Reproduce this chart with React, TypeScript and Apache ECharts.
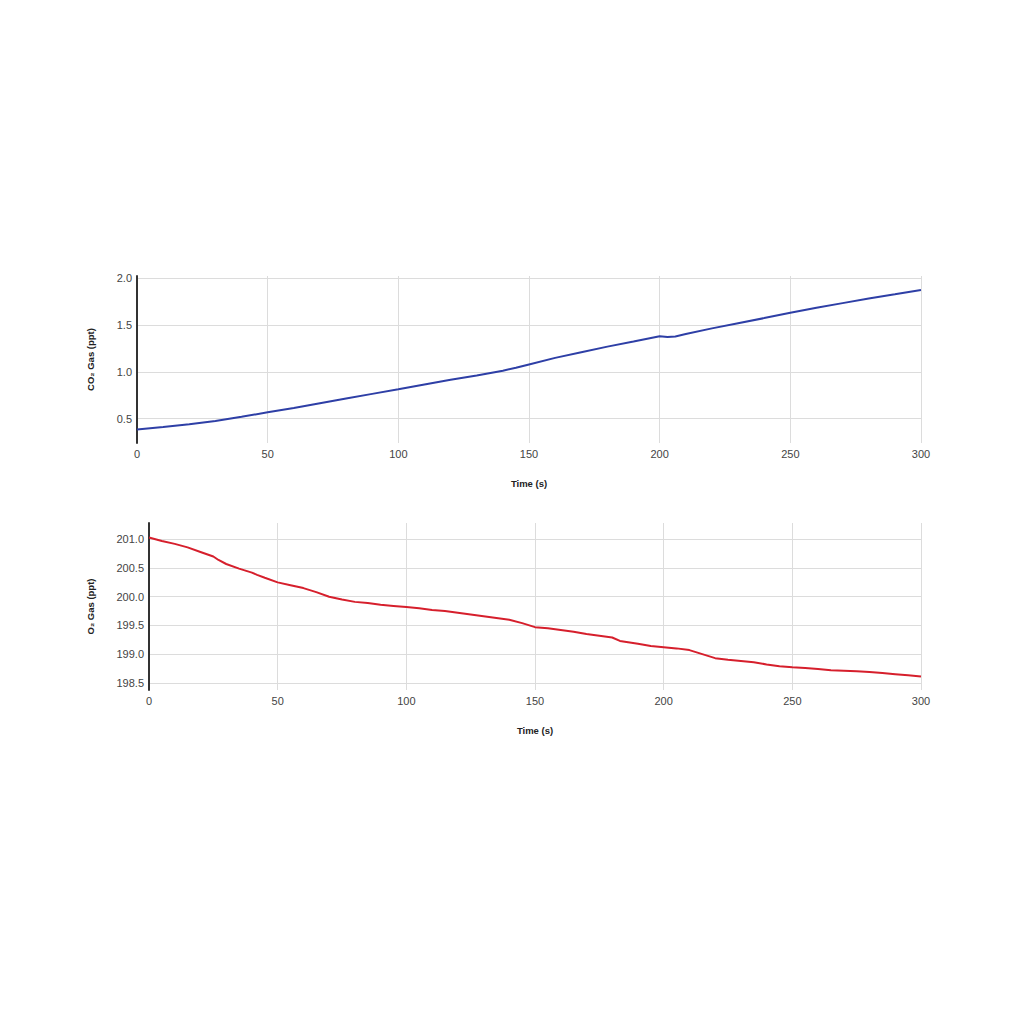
import React, { useEffect, useRef } from "react";
import * as echarts from "echarts";

const co2Time = [0, 10, 20, 30, 40, 50, 60, 70, 80, 90, 100, 110, 120, 130, 140, 145, 150, 160, 170, 180, 190, 200, 203, 206, 210, 220, 230, 240, 250, 260, 270, 280, 290, 300];
const co2Values = [0.385, 0.41, 0.44, 0.475, 0.52, 0.568, 0.615, 0.665, 0.715, 0.765, 0.814, 0.865, 0.915, 0.962, 1.012, 1.045, 1.08, 1.15, 1.21, 1.27, 1.325, 1.382, 1.372, 1.378, 1.405, 1.465, 1.52, 1.575, 1.632, 1.685, 1.735, 1.785, 1.83, 1.876];

const o2Time = [0, 5, 10, 15, 20, 25, 27, 30, 35, 40, 42, 45, 50, 55, 60, 65, 70, 75, 80, 85, 90, 95, 100, 105, 110, 115, 120, 125, 130, 135, 140, 145, 150, 155, 160, 165, 170, 175, 180, 183, 190, 195, 200, 205, 210, 215, 220, 225, 230, 235, 240, 245, 250, 255, 260, 265, 270, 275, 280, 285, 290, 295, 300];
const o2Values = [201.03, 200.97, 200.92, 200.86, 200.78, 200.7, 200.64, 200.57, 200.49, 200.42, 200.38, 200.33, 200.25, 200.2, 200.15, 200.08, 200.0, 199.95, 199.91, 199.89, 199.86, 199.84, 199.82, 199.8, 199.77, 199.75, 199.72, 199.69, 199.66, 199.63, 199.6, 199.54, 199.47, 199.45, 199.42, 199.39, 199.35, 199.32, 199.29, 199.23, 199.18, 199.14, 199.12, 199.1, 199.07, 199.0, 198.93, 198.9, 198.88, 198.86, 198.82, 198.79, 198.77, 198.76, 198.74, 198.72, 198.71, 198.7, 198.69, 198.67, 198.65, 198.63, 198.61];

const xTicks = [0, 50, 100, 150, 200, 250, 300];
const co2Ticks = [0.5, 1.0, 1.5, 2.0];
const o2Ticks = [198.5, 199.0, 199.5, 200.0, 200.5, 201.0];

const FONT = "'Liberation Sans', Arial, Helvetica, sans-serif";

export default function App() {
  const ref = useRef<HTMLDivElement>(null);
  useEffect(() => {
    if (!ref.current) return;
    const chart = echarts.init(ref.current, undefined, { renderer: "svg" });
    const xAxisBase = (gridIndex: number) => ({
      type: "value" as const,
      gridIndex,
      min: xTicks[0],
      max: xTicks[xTicks.length - 1],
      interval: 50,
      name: "Time (s)",
      nameLocation: "middle" as const,
      nameGap: 35,
      nameTextStyle: { fontFamily: FONT, fontSize: 9.5, fontWeight: "bold" as const, color: "#222" },
      axisLine: { show: false },
      axisTick: { show: false },
      axisLabel: { fontFamily: FONT, fontSize: 11, color: "#444", margin: 5 },
      splitLine: { show: true, lineStyle: { color: "#dcdcdc", width: 1 } },
    });
    const yAxisBase = (gridIndex: number, name: string, min: number, max: number, ticks: number[], gap: number) => ({
      type: "value" as const,
      gridIndex,
      min,
      max,
      name,
      nameLocation: "middle" as const,
      nameGap: gap,
      nameRotate: 90,
      nameTextStyle: { fontFamily: FONT, fontSize: 9.5, fontWeight: "bold" as const, color: "#222" },
      axisLine: { show: true, lineStyle: { color: "#333", width: 2 } },
      axisTick: { show: false, customValues: ticks },
      axisLabel: {
        fontFamily: FONT,
        fontSize: 11,
        color: "#444",
        margin: 5,
        customValues: ticks,
        formatter: (v: number) => v.toFixed(1),
      },
      splitLine: { show: true, lineStyle: { color: "#dcdcdc", width: 1 } },
    });
    chart.setOption({
      animation: false,
      backgroundColor: "#ffffff",
      grid: [
        { left: 137, right: 103, top: 276, height: 167 },
        { left: 149, right: 103, top: 523, height: 167 },
      ],
      xAxis: [xAxisBase(0), xAxisBase(1)],
      yAxis: [
        yAxisBase(0, "CO\u2082 Gas (ppt)", 0.24, 2.025, co2Ticks, 42),
        yAxisBase(1, "O\u2082 Gas (ppt)", 198.375, 201.284, o2Ticks, 54),
      ],
      series: [
        {
          type: "line",
          xAxisIndex: 0,
          yAxisIndex: 0,
          data: co2Time.map((t, i) => [t, co2Values[i]]),
          showSymbol: false,
          lineStyle: { color: "#2E3FA6", width: 2 },
          itemStyle: { color: "#2E3FA6" },
        },
        {
          type: "line",
          xAxisIndex: 1,
          yAxisIndex: 1,
          data: o2Time.map((t, i) => [t, o2Values[i]]),
          showSymbol: false,
          lineStyle: { color: "#D61F2C", width: 2 },
          itemStyle: { color: "#D61F2C" },
        },
      ],
    });
    return () => chart.dispose();
  }, []);
  return (
    <div
      ref={ref}
      style={{ position: "fixed", left: 0, top: 0, width: 1024, height: 1024, background: "#fff" }}
    />
  );
}
